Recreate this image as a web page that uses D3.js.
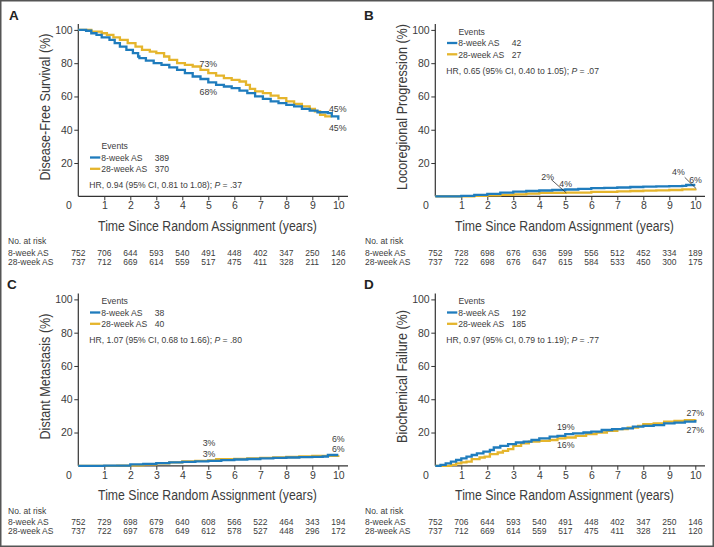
<!DOCTYPE html>
<html>
<head>
<meta charset="utf-8">
<script src="https://cdn.jsdelivr.net/npm/d3@7"></script>
<style>
  body { margin: 0; background: #fff; }
  svg { display: block; font-family: "Liberation Sans", Arial, Helvetica, sans-serif; }
  text { fill: #3c3c3c; }
</style>
</head>
<body>
<svg id="fig" width="714" height="547"></svg>
<script>
// ---- data ----
const years = [0, 1, 2, 3, 4, 5, 6, 7, 8, 9, 10];
const groups = ["8-week AS", "28-week AS"];

// A: disease-free survival (%)
const dfs8T  = [0, 0.3, 0.5, 0.7, 0.9, 1.2, 1.4, 1.6, 1.85, 2.1, 2.3, 2.35, 2.6, 2.9, 3.2, 3.5, 3.8, 4.1, 4.4, 4.7, 5.0, 5.3, 5.6, 5.9, 6.2, 6.5, 6.8, 7.1, 7.4, 7.7, 8.0, 8.3, 8.6, 8.9, 9.2, 9.6, 9.75, 10.0];
const dfs8V  = [100, 99.5, 98, 97, 95.5, 94, 92, 90, 88, 86, 84, 83, 81.5, 80, 79, 77.5, 76, 74, 72, 70.5, 68.5, 67, 66, 65, 63.5, 62, 60, 58.5, 57, 56, 55, 54, 52.5, 51.5, 50.5, 50, 48, 46];
const dfs28T = [0, 0.5, 0.9, 1.1, 1.35, 1.6, 1.9, 2.2, 2.45, 2.75, 3.0, 3.3, 3.5, 3.8, 4.1, 4.4, 4.7, 5.0, 5.3, 5.6, 5.9, 6.2, 6.45, 6.6, 6.8, 7.1, 7.4, 7.7, 8.0, 8.3, 8.6, 8.9, 9.1, 9.3, 9.5, 9.75];
const dfs28V = [100, 99, 98, 97, 95.5, 94, 92, 90, 88, 87, 86, 84, 82, 80, 79, 78, 76, 74, 72.5, 71, 70, 69, 67, 64.5, 63, 62, 60.5, 59, 57, 55.5, 54, 52.5, 51, 49, 48, 48];
const dfsRisk8  = [752, 706, 644, 593, 540, 491, 448, 402, 347, 250, 146];
const dfsRisk28 = [737, 712, 669, 614, 559, 517, 475, 411, 328, 211, 120];

// B: locoregional progression (%)
const lrp8T  = [0, 1.0, 1.5, 2.0, 2.5, 3.0, 3.5, 4.0, 4.5, 5.0, 5.5, 6.0, 6.5, 7.0, 7.5, 8.0, 8.5, 9.0, 9.5, 9.65, 10.0];
const lrp8V  = [0, 0.3, 0.8, 1.5, 2.2, 2.8, 3.2, 3.5, 3.8, 4.1, 4.5, 4.9, 5.1, 5.3, 5.6, 5.8, 6.0, 6.1, 6.3, 6.8, 6.8];
const lrp28T = [0, 1.5, 2.0, 2.5, 3.0, 3.5, 4.0, 5.0, 6.0, 7.0, 7.5, 8.0, 8.5, 9.0, 9.5, 10.0];
const lrp28V = [0, 0.2, 0.5, 0.8, 1.2, 1.6, 2.0, 2.2, 2.6, 3.0, 3.2, 3.4, 3.6, 3.8, 4.2, 4.5];
const lrpRisk8  = [752, 728, 698, 676, 636, 599, 556, 512, 452, 334, 189];
const lrpRisk28 = [737, 722, 698, 676, 647, 615, 584, 533, 450, 300, 175];

// C: distant metastasis (%)
const dm8T  = [0, 1.0, 2.0, 2.5, 3.0, 3.5, 4.0, 4.5, 5.0, 5.5, 6.0, 6.5, 7.0, 7.5, 8.0, 8.5, 9.0, 9.4, 9.6, 10.0];
const dm8V  = [0, 0.1, 0.8, 1.2, 1.6, 2.0, 2.4, 2.7, 3.0, 3.4, 3.8, 4.1, 4.5, 4.8, 5.0, 5.2, 5.4, 5.6, 6.5, 6.5];
const dm28T = [0, 1.5, 2.0, 2.5, 3.0, 3.5, 4.0, 4.5, 5.0, 5.3, 6.0, 6.5, 7.0, 7.5, 8.0, 8.5, 9.0, 9.5, 10.0];
const dm28V = [0, 0.1, 0.3, 0.8, 1.4, 2.0, 2.6, 3.0, 3.3, 4.0, 4.2, 4.5, 4.8, 5.0, 5.3, 5.6, 6.0, 6.0, 6.3];
const dmRisk8  = [752, 729, 698, 679, 640, 608, 566, 522, 464, 343, 194];
const dmRisk28 = [737, 722, 697, 678, 649, 612, 578, 527, 448, 296, 172];

// D: biochemical failure (%)
const bf8T  = [0, 0.2, 0.4, 0.6, 0.8, 1.0, 1.2, 1.4, 1.6, 1.85, 2.1, 2.25, 2.5, 2.8, 3.1, 3.4, 3.7, 4.0, 4.4, 4.7, 5.0, 5.3, 5.7, 6.0, 6.4, 6.8, 7.2, 7.6, 8.0, 8.4, 8.8, 9.2, 9.6, 10.0];
const bf8V  = [0, 0.5, 1.5, 2.5, 3.5, 4.5, 5.5, 6.5, 7.5, 8.5, 9.5, 11, 12, 13, 14, 14.5, 15.5, 16.5, 17.5, 18, 19, 19.5, 20, 20.5, 21.5, 22, 22.5, 23.5, 24, 24.5, 25.5, 26, 26.5, 27.5];
const bf28T = [0, 0.6, 0.8, 1.0, 1.2, 1.4, 1.7, 1.9, 2.1, 2.4, 2.6, 2.8, 3.0, 3.3, 3.6, 4.0, 4.4, 4.7, 5.0, 5.4, 5.8, 6.2, 6.6, 7.0, 7.4, 7.8, 8.0, 8.4, 8.8, 9.2, 9.6, 10.0];
const bf28V = [0, 0.5, 1.5, 2, 2.5, 4, 5, 5.5, 7, 8, 9, 10, 12, 13.5, 14.5, 15, 15.5, 16.5, 17, 18, 19, 20, 21, 22, 23, 24, 25, 25.5, 26.5, 27, 27.5, 28];
const bfRisk8  = [752, 706, 644, 593, 540, 491, 448, 402, 347, 250, 146];
const bfRisk28 = [737, 712, 669, 614, 559, 517, 475, 411, 328, 211, 120];

const colors = ["#1f7cbd", "#e5b52c"];

// ---- panels (layout + which arrays) ----
const panels = [
  { letter: "A", ox: 0, oy: 0, ylab: "Disease-Free Survival (%)",
    s8: [dfs8T, dfs8V], s28: [dfs28T, dfs28V], risk: [dfsRisk8, dfsRisk28],
    events: [389, 370], hr: ["HR, 0.94 (95% CI, 0.81 to 1.08); ", " = .37"], legendY: 149,
    notes: [
      { text: "73%", t: 5, v: 73, dx: 0, dy: -10.9 },
      { text: "68%", t: 5, v: 68, dx: 0, dy: 8.5 },
      { text: "45%", t: 10, v: 45, dx: -0.6, dy: -12.2 },
      { text: "45%", t: 10, v: 45, dx: -0.6, dy: 6.2 }
    ], leaders: [] },
  { letter: "B", ox: 357, oy: 0, ylab: "Locoregional Progression (%)",
    s8: [lrp8T, lrp8V], s28: [lrp28T, lrp28V], risk: [lrpRisk8, lrpRisk28],
    events: [42, 27], hr: ["HR, 0.65 (95% CI, 0.40 to 1.05); ", " = .07"], legendY: 34.5,
    notes: [
      { text: "2%", t: 5, v: 2, dx: -17.6, dy: -15.7 },
      { text: "4%", t: 5, v: 4, dx: 0.4, dy: -6 },
      { text: "4%", t: 10, v: 4, dx: -16.9, dy: -17.4 },
      { text: "6%", t: 10, v: 6, dx: 0.2, dy: -6.6 }
    ],
    leaders: [ { t: 5, v: 2, fx: -14, fy: -13.4 }, { t: 10, v: 4.5, fx: -10.6, fy: -11.5 } ] },
  { letter: "C", ox: 0, oy: 269.5, ylab: "Distant Metastasis (%)",
    s8: [dm8T, dm8V], s28: [dm28T, dm28V], risk: [dmRisk8, dmRisk28],
    events: [38, 40], hr: ["HR, 1.07 (95% CI, 0.68 to 1.66); ", " = .80"], legendY: 34.5,
    notes: [
      { text: "3%", t: 5, v: 3, dx: 0.7, dy: -17.5 },
      { text: "3%", t: 5, v: 3, dx: 0.7, dy: -6.8 },
      { text: "6%", t: 10, v: 6, dx: 0, dy: -16.8 },
      { text: "6%", t: 10, v: 6, dx: 0, dy: -6.8 }
    ], leaders: [] },
  { letter: "D", ox: 357, oy: 269.5, ylab: "Biochemical Failure (%)",
    s8: [bf8T, bf8V], s28: [bf28T, bf28V], risk: [bfRisk8, bfRisk28],
    events: [192, 185], hr: ["HR, 0.97 (95% CI, 0.79 to 1.19); ", " = .77"], legendY: 34.5,
    notes: [
      { text: "19%", t: 5, v: 19, dx: 0.4, dy: -7.5 },
      { text: "16%", t: 5, v: 16, dx: 0.4, dy: 5.8 },
      { text: "27%", t: 10, v: 27, dx: 0, dy: -8.2 },
      { text: "27%", t: 10, v: 27, dx: 0, dy: 9.1 }
    ], leaders: [] }
];

const svg = d3.select("#fig");

// outer frame
svg.append("rect")
  .attr("x", 0.75).attr("y", 0.75)
  .attr("width", 712.5).attr("height", 545.5)
  .attr("fill", "none").attr("stroke", "#555").attr("stroke-width", 1.5);

function kmPanel(selection, p) {
  const x = d3.scaleLinear().domain([0, 10]).range([78.3, 338.3]);
  const y = d3.scaleLinear().domain([0, 100]).range([196.3, 29.9]);
  const axisColor = "#333";

  // panel letter
  selection.append("text")
    .attr("x", p.letter === "A" ? 9 : 7).attr("y", 19.5)
    .style("font-size", "13.5px").style("font-weight", "bold")
    .style("fill", "#222")
    .text(p.letter);

  // y axis
  const yAxis = selection.append("g")
    .attr("transform", `translate(${x(0)},0)`)
    .call(d3.axisLeft(y).tickValues([20, 40, 60, 80, 100]).tickSize(4).tickPadding(1.6));
  yAxis.select(".domain").remove();
  yAxis.selectAll("line").attr("stroke", axisColor);
  yAxis.selectAll("text").style("font-size", "10.5px").attr("fill", "#3c3c3c")
    .style("font-family", "inherit");
  selection.append("line")
    .attr("x1", x(0)).attr("x2", x(0)).attr("y1", 24).attr("y2", y(0))
    .attr("stroke", axisColor).attr("stroke-width", 1.2);

  // x axis
  const xAxis = selection.append("g")
    .attr("transform", `translate(0,${y(0)})`)
    .call(d3.axisBottom(x).tickValues(years).tickSize(4).tickPadding(1.4));
  xAxis.select(".domain").remove();
  xAxis.selectAll("line").attr("stroke", axisColor);
  xAxis.selectAll("text").style("font-size", "10.5px").attr("fill", "#3c3c3c")
    .style("font-family", "inherit");
  // the origin label sits left of the corner
  xAxis.selectAll(".tick").filter(d => d === 0).select("line").remove();
  xAxis.selectAll(".tick").filter(d => d === 0).select("text").attr("x", -10);
  selection.append("line")
    .attr("x1", x(0)).attr("x2", 348).attr("y1", y(0)).attr("y2", y(0))
    .attr("stroke", axisColor).attr("stroke-width", 1.2);

  // axis titles (condensed look)
  const yt = selection.append("text")
    .attr("transform", `translate(49.5,107) rotate(-90)`)
    .attr("text-anchor", "middle")
    .style("font-size", "14px")
    .text(p.ylab);
  yt.attr("textLength", yt.node().getComputedTextLength() * 0.9)
    .attr("lengthAdjust", "spacingAndGlyphs");

  const xt = selection.append("text")
    .attr("x", 207.5).attr("y", 230.7)
    .attr("text-anchor", "middle")
    .style("font-size", "14px")
    .text("Time Since Random Assignment (years)");
  xt.attr("textLength", xt.node().getComputedTextLength() * 0.875)
    .attr("lengthAdjust", "spacingAndGlyphs");

  // KM curves
  const line = d3.line()
    .x(d => x(d[0]))
    .y(d => y(d[1]))
    .curve(d3.curveStepAfter);
  const series = [p.s28, p.s8];
  const seriesColors = [colors[1], colors[0]];
  selection.selectAll("path.km")
    .data(series)
    .join("path")
    .attr("class", "km")
    .attr("d", s => line(d3.zip(s[0], s[1])))
    .attr("fill", "none")
    .attr("stroke", (d, i) => seriesColors[i])
    .attr("stroke-width", 2.3)
    .attr("stroke-linejoin", "miter");

  // legend
  const lx = x(0);
  const ly = p.legendY;
  const leg = selection.append("g").style("font-size", "8.6px");
  leg.append("text").attr("x", lx + 23.3).attr("y", ly).text("Events");
  groups.forEach((g, i) => {
    const sy = ly + 8.5 + i * 11.3;
    leg.append("line")
      .attr("x1", lx + 11.7).attr("x2", lx + 22)
      .attr("y1", sy).attr("y2", sy)
      .attr("stroke", colors[i]).attr("stroke-width", 2.3);
    leg.append("text").attr("x", lx + 23).attr("y", sy + 3.2).text(g);
    leg.append("text").attr("x", lx + 76.5).attr("y", sy + 3.2).text(p.events[i]);
  });
  const hr = leg.append("text").attr("x", lx + 11).attr("y", ly + 39.3);
  hr.append("tspan").text(p.hr[0]);
  hr.append("tspan").style("font-style", "italic").text("P");
  hr.append("tspan").text(p.hr[1]);

  // annotations
  selection.selectAll("text.note")
    .data(p.notes)
    .join("text")
    .attr("class", "note")
    .attr("x", d => x(d.t) + d.dx)
    .attr("y", d => y(d.v) + d.dy)
    .attr("dy", "0.35em")
    .attr("text-anchor", "middle")
    .style("font-size", "8.8px")
    .text(d => d.text);

  selection.selectAll("line.leader")
    .data(p.leaders)
    .join("line")
    .attr("class", "leader")
    .attr("x1", d => x(d.t) + d.fx).attr("y1", d => y(d.v) + d.fy)
    .attr("x2", d => x(d.t) + 1).attr("y2", d => y(d.v))
    .attr("stroke", "#333").attr("stroke-width", 0.8);

  // numbers at risk
  const risk = selection.append("g").style("font-size", "8.5px");
  risk.append("text").attr("x", 8).attr("y", 244.3).text("No. at risk");
  groups.forEach((g, i) => {
    const ry = 255.5 + i * 9;
    risk.append("text").attr("x", 8).attr("y", ry).text(g);
    risk.selectAll(null)
      .data(p.risk[i])
      .join("text")
      .attr("x", (d, j) => x(years[j]))
      .attr("y", ry)
      .attr("text-anchor", "middle")
      .text(d => d);
  });
}

panels.forEach(p => {
  const g = svg.append("g").attr("transform", `translate(${p.ox},${p.oy})`);
  kmPanel(g, p);
});
</script>
</body>
</html>
